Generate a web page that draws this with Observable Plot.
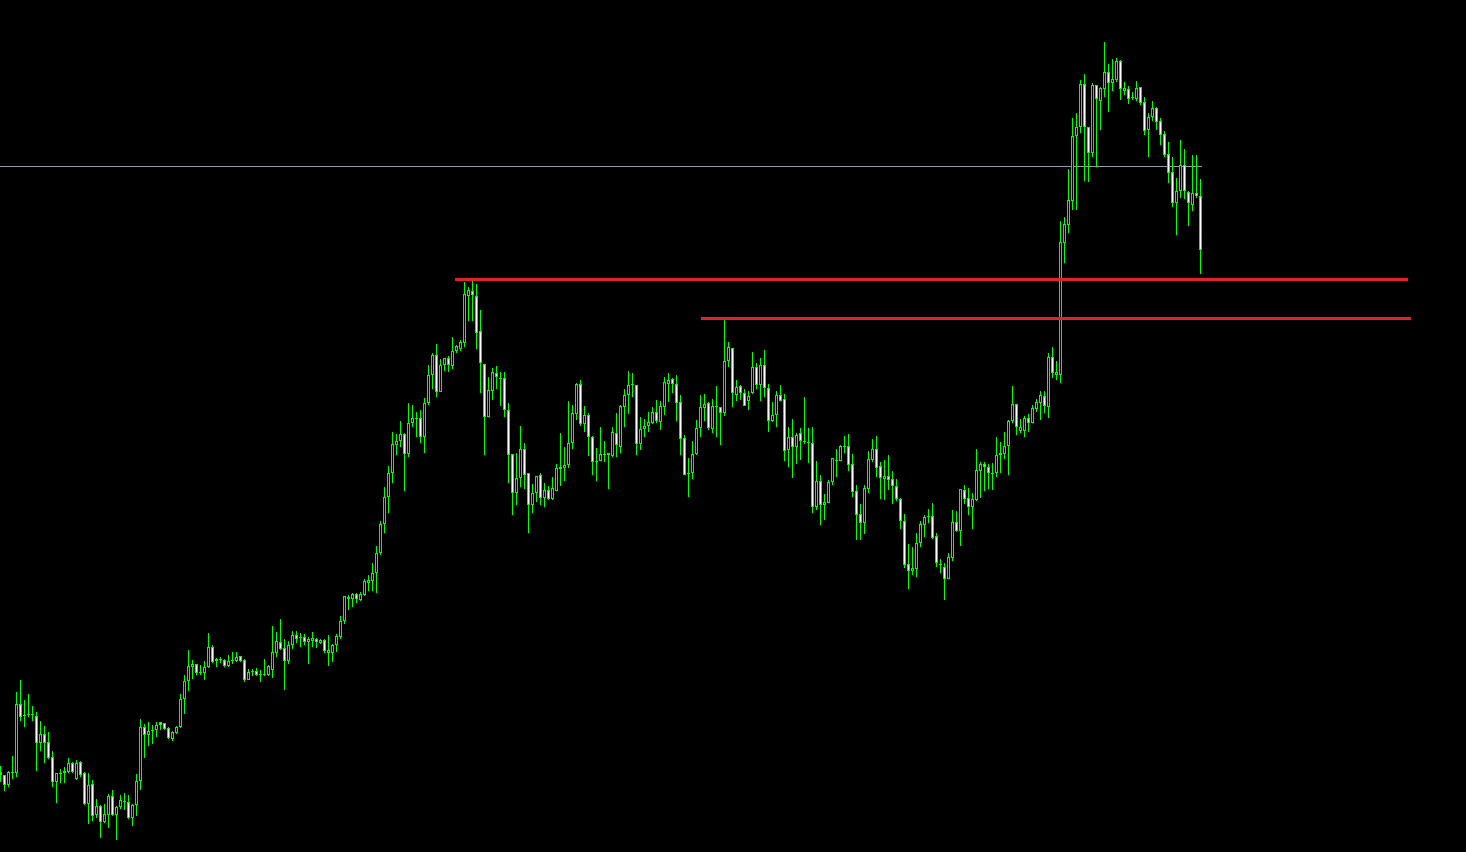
<!DOCTYPE html>
<html>
<head>
<meta charset="utf-8">
<script src="https://cdn.jsdelivr.net/npm/d3@7"></script>
<script src="https://cdn.jsdelivr.net/npm/@observablehq/plot@0.6"></script>
<style>
  html, body { margin: 0; padding: 0; background: #000; overflow: hidden; }
  #chart svg { display: block; }
</style>
</head>
<body>
<div id="chart"></div>
<script>
// Candle OHLC values (price points), one per bar, oldest first
const open = [
  80,77,67,79,79,148,137,137,138,136,
  109,118,110,95,70,79,79,80,89,73,
  90,79,48,68,37,46,30,37,56,37,
  45,51,50,34,47,71,125,117,121,122,
  130,129,124,113,119,125,153,171,185,188,
  179,179,185,205,191,193,192,186,192,191,
  196,192,172,181,181,178,178,177,182,199,
  210,204,191,207,217,214,215,210,211,213,
  209,212,199,199,207,215,231,255,253,258,
  252,257,269,271,279,299,328,355,379,407,
  411,418,398,429,434,434,415,449,477,497,
  460,487,494,486,501,503,509,556,561,556,
  521,488,435,461,479,474,474,442,398,359,
  374,403,379,347,359,377,354,362,353,361,
  383,384,387,409,438,468,428,437,415,391,
  391,398,399,396,419,405,445,457,467,467,
  408,423,426,429,440,430,445,468,473,468,
  450,414,379,379,398,424,444,449,423,445,
  445,439,491,504,457,466,459,451,459,485,
  467,487,464,431,437,457,453,402,415,405,
  419,411,410,409,345,371,347,349,370,391,
  391,405,406,388,361,338,329,363,392,403,
  386,373,376,373,366,353,331,288,281,283,
  309,327,335,336,316,288,285,273,294,330,
  321,362,354,345,352,381,388,385,379,379,
  397,398,406,431,448,421,421,434,429,443,
  449,456,445,495,477,477,609,627,651,716,
  725,768,725,699,767,751,763,780,769,772,
  791,761,763,755,753,765,750,722,735,744,
  731,718,698,680,649,661,687,660,647,659,
  656
];
const close = [
  77,67,80,80,148,135,136,138,137,109,
  118,109,94,70,79,78,81,89,80,89,
  77,48,67,36,46,30,38,56,37,45,
  52,50,34,47,71,125,117,121,122,127,
  127,123,114,120,125,153,171,186,188,179,
  180,185,205,190,193,192,186,191,191,195,
  191,172,180,180,177,177,177,186,200,211,
  203,191,207,217,213,215,210,213,214,210,
  212,201,202,207,216,231,256,253,258,253,
  258,271,272,279,299,328,355,379,408,411,
  418,398,429,434,433,415,449,477,497,460,
  487,494,487,501,506,510,558,562,557,519,
  489,435,462,480,475,473,442,397,359,374,
  403,377,347,359,376,354,362,353,364,384,
  385,387,409,439,468,428,437,415,390,390,
  398,397,397,420,407,446,457,467,468,408,
  423,426,430,440,431,446,470,472,468,449,
  413,377,378,398,424,445,448,424,446,446,
  439,491,505,459,465,459,446,456,485,467,
  487,464,431,437,457,451,401,415,405,417,
  411,410,409,345,371,347,350,370,394,392,
  406,406,387,360,337,329,364,393,403,384,
  374,376,372,366,353,331,287,281,284,309,
  328,335,336,314,289,287,273,295,330,321,
  363,353,345,353,382,388,385,379,378,397,
  399,406,431,448,425,425,434,429,444,450,
  457,446,495,479,480,610,628,652,716,725,
  768,725,699,767,753,764,780,769,773,791,
  763,764,753,754,764,749,721,735,744,730,
  717,697,679,649,661,687,661,649,659,656,
  602
];
const high = [
  86,77,81,96,160,172,152,158,146,140,
  131,126,120,101,79,83,85,94,90,92,
  91,80,79,72,53,47,48,58,62,46,
  57,59,57,48,78,133,128,130,127,130,
  130,129,125,121,126,158,177,202,192,188,
  187,191,219,207,194,195,193,197,200,200,
  196,193,183,183,184,182,193,187,226,220,
  233,213,211,221,221,219,218,215,220,214,
  213,213,217,208,218,236,256,257,259,259,
  260,273,277,289,306,331,365,386,420,418,
  431,419,449,447,440,442,454,487,499,508,
  493,494,496,515,507,512,570,565,571,568,
  542,488,475,484,486,480,480,449,398,399,
  426,409,379,368,376,379,369,366,375,388,
  419,405,451,447,469,472,446,439,416,404,
  425,411,399,425,439,447,463,481,479,467,
  435,433,440,445,452,451,475,479,474,477,
  457,417,394,411,432,457,458,450,453,466,
  445,532,510,504,472,467,463,461,500,489,
  494,502,468,450,461,467,458,425,433,419,
  424,455,424,425,391,377,358,372,394,403,
  407,416,418,398,367,348,367,401,413,416,
  390,392,397,381,373,354,338,308,305,319,
  331,337,343,349,319,293,289,299,342,341,
  363,367,364,359,403,390,390,388,389,415,
  410,420,432,466,448,433,436,438,447,453,
  461,461,499,505,491,631,635,683,734,739,
  772,778,725,769,767,765,810,788,793,794,
  792,770,766,760,771,765,755,739,751,745,
  734,721,710,695,674,712,703,661,697,697,
  673
];
const low = [
  70,61,65,73,75,131,125,135,131,81,
  101,89,93,65,49,69,69,79,79,72,
  75,47,28,31,34,14,29,24,36,12,
  43,42,33,26,36,62,94,106,108,115,
  122,122,113,111,118,124,138,161,173,177,
  177,172,184,189,185,189,185,185,188,190,
  190,170,172,176,176,170,176,176,174,195,
  202,162,188,203,209,205,207,188,205,204,
  208,199,186,190,200,213,228,242,245,249,
  251,256,261,261,259,297,319,339,369,397,
  405,361,395,425,415,409,399,447,463,455,
  460,481,480,483,499,501,505,531,531,503,
  459,397,435,452,463,446,435,369,337,347,
  365,363,319,339,350,347,345,352,352,361,
  366,371,384,403,432,426,420,396,377,371,
  391,390,363,395,395,399,425,438,455,397,
  402,415,420,428,429,422,437,450,459,431,
  397,377,355,373,397,415,431,422,419,415,
  407,436,485,445,451,452,446,442,458,463,
  451,455,420,430,425,451,391,385,374,388,
  392,408,389,339,342,327,332,349,367,375,
  391,399,381,355,312,312,318,359,390,375,
  353,352,362,348,351,323,284,263,277,275,
  305,315,329,313,285,279,252,273,291,320,
  306,348,337,323,351,354,361,363,362,375,
  379,393,377,429,417,419,415,420,429,440,
  432,439,434,474,472,469,589,619,642,642,
  719,671,670,695,685,722,755,740,761,770,
  752,757,748,752,751,747,717,695,731,722,
  707,695,669,645,617,654,653,626,641,654,
  578
];

// Horizontal levels: price, start bar, end bar
const levelPrice = [686, 573, 534];
const levelStart = [0, 113.75, 175.25];
const levelEnd   = [300.5, 352, 352.75];
const levelKind  = ["price", "resistance", "support"];

const candles = open.map((o, i) => ({
  i, o, h: high[i], l: low[i], c: close[i],
  top: Math.max(o, close[i]), bot: Math.min(o, close[i]),
  bear: close[i] < o
}));
const levels = levelPrice.map((p, k) => ({p, x1: levelStart[k], x2: levelEnd[k], kind: levelKind[k]}));

const GREEN = "#00ff00";
const levelColor = {price: "#939cab", resistance: "#e3212a", support: "#e3212a"};
const levelWidth = {price: 1, resistance: 3, support: 3};

const chart = Plot.plot({
  width: 1466,
  height: 852,
  margin: 0,
  style: {background: "#000"},
  x: {domain: [0, 366.5], axis: null},
  y: {domain: [0, 852], axis: null},
  marks: [
    Plot.ruleY(levels.filter(d => d.kind === "price"), {
      y: "p", x1: "x1", x2: "x2",
      stroke: d => levelColor[d.kind], strokeWidth: d => levelWidth[d.kind]
    }),
    Plot.ruleX(candles, {x: "i", y1: "h", y2: "l", stroke: GREEN, strokeWidth: 1}),
    Plot.ruleX(candles, {x: "i", y1: "top", y2: "bot", stroke: GREEN, strokeWidth: 3}),
    Plot.ruleX(candles.filter(d => d.top - d.bot > 2), {
      x: "i", y1: "top", y2: "bot", insetTop: 1, insetBottom: 1,
      stroke: d => d.bear ? "#ffffff" : "#000000", strokeWidth: 1
    }),
    Plot.ruleY(levels.filter(d => d.kind !== "price"), {
      y: "p", x1: "x1", x2: "x2",
      stroke: d => levelColor[d.kind], strokeWidth: d => levelWidth[d.kind]
    })
  ]
});
document.getElementById("chart").appendChild(chart);
</script>
</body>
</html>
